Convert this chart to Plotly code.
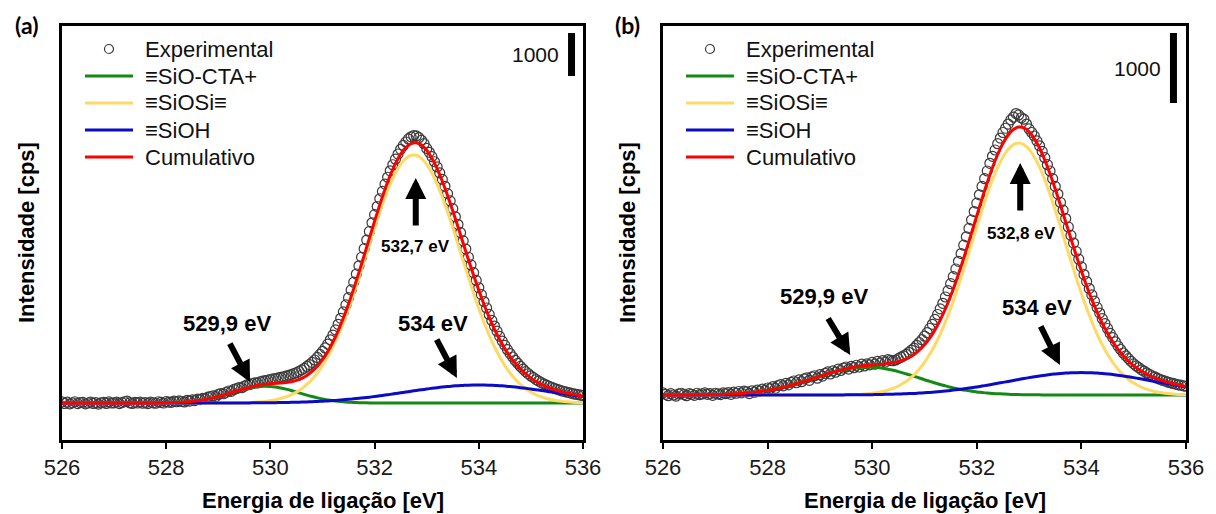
import plotly.graph_objects as go

FONT = "Liberation Sans, Arial, sans-serif"

# ---------------- energy grids (eV) ----------------
ENERGY_FIT = [
    526.0, 526.1, 526.2, 526.3, 526.4, 526.5, 526.6, 526.7, 526.8, 526.9,
    527.0, 527.1, 527.2, 527.3, 527.4, 527.5, 527.6, 527.7, 527.8, 527.9,
    528.0, 528.1, 528.2, 528.3, 528.4, 528.5, 528.6, 528.7, 528.8, 528.9,
    529.0, 529.1, 529.2, 529.3, 529.4, 529.5, 529.6, 529.7, 529.8, 529.9,
    530.0, 530.1, 530.2, 530.3, 530.4, 530.5, 530.6, 530.7, 530.8, 530.9,
    531.0, 531.1, 531.2, 531.3, 531.4, 531.5, 531.6, 531.7, 531.8, 531.9,
    532.0, 532.1, 532.2, 532.3, 532.4, 532.5, 532.6, 532.7, 532.8, 532.9,
    533.0, 533.1, 533.2, 533.3, 533.4, 533.5, 533.6, 533.7, 533.8, 533.9,
    534.0, 534.1, 534.2, 534.3, 534.4, 534.5, 534.6, 534.7, 534.8, 534.9,
    535.0, 535.1, 535.2, 535.3, 535.4, 535.5, 535.6, 535.7, 535.8, 535.9,
    536.0,
]

ENERGY_EXP = [
    526.0, 526.05, 526.1, 526.15, 526.2, 526.25, 526.3, 526.35, 526.4, 526.45,
    526.5, 526.55, 526.6, 526.65, 526.7, 526.75, 526.8, 526.85, 526.9, 526.95,
    527.0, 527.05, 527.1, 527.15, 527.2, 527.25, 527.3, 527.35, 527.4, 527.45,
    527.5, 527.55, 527.6, 527.65, 527.7, 527.75, 527.8, 527.85, 527.9, 527.95,
    528.0, 528.05, 528.1, 528.15, 528.2, 528.25, 528.3, 528.35, 528.4, 528.45,
    528.5, 528.55, 528.6, 528.65, 528.7, 528.75, 528.8, 528.85, 528.9, 528.95,
    529.0, 529.05, 529.1, 529.15, 529.2, 529.25, 529.3, 529.35, 529.4, 529.45,
    529.5, 529.55, 529.6, 529.65, 529.7, 529.75, 529.8, 529.85, 529.9, 529.95,
    530.0, 530.05, 530.1, 530.15, 530.2, 530.25, 530.3, 530.35, 530.4, 530.45,
    530.5, 530.55, 530.6, 530.65, 530.7, 530.75, 530.8, 530.85, 530.9, 530.95,
    531.0, 531.05, 531.1, 531.15, 531.2, 531.25, 531.3, 531.35, 531.4, 531.45,
    531.5, 531.55, 531.6, 531.65, 531.7, 531.75, 531.8, 531.85, 531.9, 531.95,
    532.0, 532.05, 532.1, 532.15, 532.2, 532.25, 532.3, 532.35, 532.4, 532.45,
    532.5, 532.55, 532.6, 532.65, 532.7, 532.75, 532.8, 532.85, 532.9, 532.95,
    533.0, 533.05, 533.1, 533.15, 533.2, 533.25, 533.3, 533.35, 533.4, 533.45,
    533.5, 533.55, 533.6, 533.65, 533.7, 533.75, 533.8, 533.85, 533.9, 533.95,
    534.0, 534.05, 534.1, 534.15, 534.2, 534.25, 534.3, 534.35, 534.4, 534.45,
    534.5, 534.55, 534.6, 534.65, 534.7, 534.75, 534.8, 534.85, 534.9, 534.95,
    535.0, 535.05, 535.1, 535.15, 535.2, 535.25, 535.3, 535.35, 535.4, 535.45,
    535.5, 535.55, 535.6, 535.65, 535.7, 535.75, 535.8, 535.85, 535.9, 535.95,
    536.0,
]

# ---------------- panel (a) intensities (cps above background) ----------------
A_EXPERIMENTAL = [
    25, -10, 20, -20, 5, 30, -15, 10, 15, -20, 0, 20, -10, 10, -25, 5, 15, -10, 25, 0,
    5, 20, -15, 10, 30, 45, 5, -10, 15, 0, 20, -5, 10, -15, 20, 5, -5, 30, 15, 0,
    35, 20, 15, 45, 30, 50, 35, 25, 60, 45, 75, 55, 90, 80, 110, 100, 135, 150, 165, 150,
    200, 220, 215, 250, 280, 270, 315, 335, 360, 355, 395, 420, 430, 450, 470, 465, 495, 510, 520, 535,
    545, 560, 565, 585, 595, 610, 625, 645, 660, 685, 705, 735, 770, 805, 850, 895, 945, 1000, 1060, 1130,
    1200, 1280, 1370, 1470, 1580, 1700, 1830, 1970, 2120, 2280, 2450, 2630, 2810, 3000, 3190, 3390, 3590, 3790, 3990, 4190,
    4380, 4570, 4750, 4920, 5090, 5250, 5400, 5540, 5670, 5790, 5900, 5990, 6070, 6140, 6190, 6220, 6210, 6170, 6110, 6030,
    5920, 5830, 5730, 5610, 5490, 5350, 5200, 5040, 4870, 4700, 4520, 4330, 4150, 3960, 3770, 3580, 3390, 3210, 3030, 2850,
    2680, 2520, 2360, 2210, 2060, 1920, 1790, 1670, 1550, 1440, 1340, 1240, 1150, 1070, 990, 920, 850, 790, 730, 680,
    630, 590, 545, 510, 475, 445, 415, 390, 365, 340, 320, 300, 280, 265, 250, 235, 220, 205, 195, 185,
    175,
]
A_SIO_CTA = [
    0, 0, 0, 0, 0, 0, 0, 0, 0, 0,
    0, 0, 0, 0, 0, 0, 0, 1, 2, 3,
    5, 8, 13, 19, 27, 38, 53, 71, 93, 119,
    150, 183, 218, 255, 290, 323, 351, 372, 386, 390,
    386, 372, 351, 323, 290, 255, 218, 183, 150, 119,
    93, 71, 53, 38, 27, 19, 13, 8, 5, 3,
    2, 1, 0, 0, 0, 0, 0, 0, 0, 0,
    0, 0, 0, 0, 0, 0, 0, 0, 0, 0,
    0, 0, 0, 0, 0, 0, 0, 0, 0, 0,
    0, 0, 0, 0, 0, 0, 0, 0, 0, 0,
    0,
]
A_SIOSI = [
    0, 0, 0, 0, 0, 0, 0, 0, 0, 0,
    0, 0, 0, 0, 0, 0, 0, 0, 0, 0,
    0, 0, 0, 0, 0, 0, 0, 0, 0, 1,
    1, 2, 2, 4, 6, 8, 13, 18, 27, 38,
    54, 76, 104, 142, 191, 253, 333, 431, 552, 698,
    871, 1074, 1309, 1576, 1873, 2200, 2550, 2921, 3306, 3694,
    4078, 4445, 4787, 5092, 5350, 5552, 5690, 5761, 5761, 5690,
    5552, 5350, 5092, 4787, 4445, 4078, 3694, 3306, 2921, 2550,
    2200, 1873, 1576, 1309, 1074, 871, 698, 552, 431, 333,
    253, 191, 142, 104, 76, 54, 38, 27, 18, 13,
    8,
]
A_SIOH = [
    0, 0, 0, 0, 0, 0, 0, 0, 0, 0,
    0, 0, 0, 0, 0, 0, 0, 0, 0, 0,
    0, 0, 0, 0, 0, 0, 0, 0, 0, 0,
    1, 1, 1, 2, 2, 2, 3, 4, 5, 6,
    7, 9, 11, 13, 15, 18, 22, 26, 31, 36,
    42, 49, 57, 65, 75, 85, 97, 109, 122, 136,
    151, 167, 184, 201, 219, 237, 255, 273, 291, 308,
    325, 342, 357, 371, 383, 394, 403, 410, 416, 419,
    420, 419, 416, 410, 403, 394, 383, 371, 357, 342,
    325, 308, 291, 273, 255, 237, 219, 201, 184, 167,
    151,
]
A_CUMULATIVO = [
    0, 0, 0, 0, 0, 0, 0, 0, 0, 0,
    0, 0, 0, 0, 0, 0, 0, 1, 2, 3,
    5, 8, 13, 19, 27, 38, 53, 71, 93, 120,
    152, 186, 221, 261, 298, 333, 367, 394, 418, 434,
    447, 457, 466, 478, 496, 526, 573, 640, 733, 853,
    1006, 1194, 1419, 1679, 1975, 2304, 2660, 3038, 3433, 3833,
    4231, 4613, 4971, 5293, 5569, 5789, 5945, 6034, 6052, 5998,
    5877, 5692, 5449, 5158, 4828, 4472, 4097, 3716, 3337, 2969,
    2620, 2292, 1992, 1719, 1477, 1265, 1081, 923, 788, 675,
    578, 499, 433, 377, 331, 291, 257, 228, 202, 180,
    159,
]

# ---------------- panel (b) intensities ----------------
B_EXPERIMENTAL = [
    30, 10, -10, 20, 0, -15, 15, 25, 5, -10, 20, 10, -5, 25, 5, 15, 30, 10, 20, -5,
    25, 15, 5, 30, 20, 35, 10, 40, 25, 50, 30, 55, 45, 20, 60, 40, 70, 55, 85, 65,
    100, 90, 120, 95, 135, 150, 130, 165, 145, 180, 200, 175, 215, 190, 230, 245, 210, 260, 275, 240,
    290, 270, 310, 330, 300, 345, 325, 370, 350, 385, 400, 370, 410, 390, 425, 400, 440, 415, 445, 430,
    465, 440, 480, 455, 490, 470, 505, 495, 490, 500, 520, 540, 560, 580, 610, 640, 670, 710, 750, 790,
    840, 890, 950, 1010, 1080, 1150, 1230, 1310, 1400, 1490, 1590, 1690, 1800, 1910, 2020, 2140, 2260, 2380, 2500, 2620,
    2740, 2860, 2980, 3090, 3200, 3310, 3410, 3500, 3590, 3670, 3750, 3810, 3870, 3930, 3970, 4020, 4000, 3960, 3940, 3870,
    3800, 3750, 3700, 3630, 3560, 3480, 3390, 3290, 3200, 3090, 2980, 2870, 2750, 2640, 2520, 2400, 2280, 2170, 2050, 1940,
    1830, 1720, 1620, 1520, 1430, 1340, 1250, 1170, 1090, 1020, 950, 880, 820, 760, 700, 650, 600, 560, 520, 480,
    445, 415, 390, 360, 340, 315, 295, 275, 260, 240, 225, 210, 200, 185, 175, 165, 155, 145, 140, 130,
    125,
]
B_SIO_CTA = [
    0, 0, 0, 1, 1, 1, 2, 2, 3, 4,
    6, 8, 10, 14, 18, 22, 28, 36, 44, 54,
    66, 79, 94, 111, 130, 150, 172, 195, 218, 243,
    267, 290, 313, 334, 353, 369, 382, 392, 398, 400,
    398, 392, 382, 369, 353, 334, 313, 290, 267, 243,
    218, 195, 172, 150, 130, 111, 94, 79, 66, 54,
    44, 36, 28, 22, 18, 14, 10, 8, 6, 4,
    3, 2, 2, 1, 1, 1, 0, 0, 0, 0,
    0, 0, 0, 0, 0, 0, 0, 0, 0, 0,
    0, 0, 0, 0, 0, 0, 0, 0, 0, 0,
    0,
]
B_SIOSI = [
    0, 0, 0, 0, 0, 0, 0, 0, 0, 0,
    0, 0, 0, 0, 0, 0, 0, 0, 0, 0,
    0, 0, 0, 0, 0, 0, 0, 0, 0, 0,
    0, 1, 1, 2, 2, 4, 6, 8, 12, 18,
    26, 36, 50, 70, 95, 128, 170, 222, 288, 369,
    466, 581, 715, 870, 1045, 1239, 1450, 1677, 1915, 2159,
    2403, 2642, 2868, 3074, 3254, 3401, 3510, 3577, 3600, 3577,
    3510, 3401, 3254, 3074, 2868, 2642, 2403, 2159, 1915, 1677,
    1450, 1239, 1045, 870, 715, 581, 466, 369, 288, 222,
    170, 128, 95, 70, 50, 36, 26, 18, 12, 8,
    6,
]
B_SIOH = [
    0, 0, 0, 0, 0, 0, 0, 0, 0, 0,
    0, 0, 0, 0, 0, 0, 0, 0, 0, 0,
    0, 0, 0, 0, 0, 0, 0, 0, 0, 0,
    0, 1, 1, 1, 1, 2, 2, 3, 4, 4,
    5, 7, 8, 10, 12, 14, 17, 20, 23, 28,
    32, 37, 43, 50, 57, 65, 74, 83, 93, 104,
    115, 127, 140, 153, 167, 180, 194, 208, 222, 235,
    248, 260, 272, 282, 292, 300, 307, 313, 317, 319,
    320, 319, 317, 313, 307, 300, 292, 282, 272, 260,
    248, 235, 222, 208, 194, 180, 167, 153, 140, 127,
    115,
]
B_CUMULATIVO = [
    0, 0, 0, 1, 1, 1, 2, 2, 3, 4,
    6, 8, 10, 14, 18, 22, 28, 36, 44, 54,
    66, 79, 94, 111, 130, 150, 172, 195, 218, 243,
    267, 292, 315, 337, 356, 375, 390, 403, 414, 422,
    429, 435, 440, 449, 460, 476, 500, 532, 578, 640,
    716, 813, 930, 1070, 1232, 1415, 1618, 1839, 2074, 2317,
    2562, 2805, 3036, 3249, 3439, 3595, 3714, 3793, 3828, 3816,
    3761, 3663, 3528, 3357, 3161, 2943, 2710, 2472, 2232, 1996,
    1770, 1558, 1362, 1183, 1022, 881, 758, 651, 560, 482,
    418, 363, 317, 278, 244, 216, 193, 171, 152, 135,
    121,
]

for arr in (A_EXPERIMENTAL, B_EXPERIMENTAL):
    assert len(arr) == len(ENERGY_EXP), len(arr)
for arr in (A_SIO_CTA, A_SIOSI, A_SIOH, A_CUMULATIVO, B_SIO_CTA, B_SIOSI, B_SIOH, B_CUMULATIVO):
    assert len(arr) == len(ENERGY_FIT), len(arr)

# ---------------- labels / styling ----------------
SERIES_NAMES = ["Experimental", "≡SiO-CTA+", "≡SiOSi≡", "≡SiOH", "Cumulativo"]
LINE_COLORS = {"≡SiO-CTA+": "#138a13", "≡SiOSi≡": "#ffd966", "≡SiOH": "#0a0ac8", "Cumulativo": "#ff0000"}
MARKER_COLOR = "#3a3a3a"
X_TICKS = [526, 528, 530, 532, 534, 536]
X_RANGE = [526, 536]
Y_RANGE_A = [-860, 8767]
Y_RANGE_B = [-643, 5271]
SCALE_BAR_CPS = 1000
SCALE_BAR_A = dict(x=535.78, y0=7605)
SCALE_BAR_B = dict(x=535.76, y0=4171)

PEAK_LABELS_A = [("529,9 eV", 529.17, 1860, 22), ("534 eV", 533.12, 1860, 22), ("532,7 eV", 532.79, 3651, 17)]
PEAK_ARROWS_A = [(529.61, 488, -21, -40), (533.58, 581, -21, -40), (532.79, 5233, 0, 49)]
PEAK_LABELS_B = [("529,9 eV", 529.08, 1400, 22), ("534 eV", 533.15, 1243, 22), ("532,8 eV", 532.85, 2300, 17)]
PEAK_ARROWS_B = [(529.58, 571, -23, -38), (533.59, 429, -20, -40), (532.83, 3314, 0, 49)]

W, H = 1216, 514
DOM_X_A = [62 / W, 583 / W]
DOM_X_B = [663 / W, 1186 / W]
DOM_Y = [74 / H, 488 / H]

# legend layout (pixels from the left edge of each plot box / from the top of the figure)
LEG_LINE_X0, LEG_LINE_X1, LEG_TEXT_X = 23, 71, 81
LEG_ROW_Y0, LEG_ROW_STEP = 49, 27

fig = go.Figure()


def add_panel(xa, ya, exp, comps, bar):
    fig.add_trace(go.Scatter(
        x=ENERGY_EXP, y=exp, mode="markers", name=SERIES_NAMES[0], showlegend=False,
        marker=dict(symbol="circle-open", size=10, color=MARKER_COLOR, line=dict(width=1.2)),
        xaxis=xa, yaxis=ya))
    for name, vals in zip(SERIES_NAMES[1:], comps):
        fig.add_trace(go.Scatter(
            x=ENERGY_FIT, y=vals, mode="lines", name=name, line_shape="spline", showlegend=False,
            line=dict(color=LINE_COLORS[name], width=3),
            xaxis=xa, yaxis=ya))
    fig.add_trace(go.Scatter(
        x=[bar["x"], bar["x"]], y=[bar["y0"], bar["y0"] + SCALE_BAR_CPS], mode="lines",
        line=dict(color="black", width=7), showlegend=False, xaxis=xa, yaxis=ya, hoverinfo="skip"))


add_panel("x", "y", A_EXPERIMENTAL, [A_SIO_CTA, A_SIOSI, A_SIOH, A_CUMULATIVO], SCALE_BAR_A)
add_panel("x2", "y2", B_EXPERIMENTAL, [B_SIO_CTA, B_SIOSI, B_SIOH, B_CUMULATIVO], SCALE_BAR_B)

annotations = []
shapes = []


def panel_decor(xref, yref, labels, arrows, bar, dom_x):
    for text, x, y, size in labels:
        annotations.append(dict(x=x, y=y, xref=xref, yref=yref, text=text, showarrow=False,
                                xanchor="center", yanchor="middle",
                                font=dict(family=FONT, size=size, color="black", weight="bold")))
    for x, y, ax, ay in arrows:
        annotations.append(dict(x=x, y=y, xref=xref, yref=yref, ax=ax, ay=ay, text="",
                                showarrow=True, arrowhead=2, arrowwidth=6, arrowsize=0.7,
                                arrowcolor="black", standoff=0))
    annotations.append(dict(x=bar["x"] - 0.2, y=bar["y0"] + SCALE_BAR_CPS / 2, xref=xref, yref=yref,
                            text=str(SCALE_BAR_CPS), showarrow=False, xanchor="right", yanchor="middle",
                            font=dict(family=FONT, size=21, color="#111")))
    cx = (dom_x[0] + dom_x[1]) / 2
    annotations.append(dict(x=cx, y=(H - 500) / H, xref="paper", yref="paper",
                            xanchor="center", yanchor="middle",
                            text="Energia de ligação [eV]", showarrow=False,
                            font=dict(family=FONT, size=22, color="black", weight="bold")))
    annotations.append(dict(x=dom_x[0] - 36 / W, y=(DOM_Y[0] + DOM_Y[1]) / 2, xref="paper", yref="paper",
                            xanchor="center", yanchor="middle",
                            text="Intensidade [cps]", showarrow=False, textangle=-90,
                            font=dict(family=FONT, size=22, color="black", weight="bold")))
    # legend, drawn item by item
    left_px = dom_x[0] * W
    for i, name in enumerate(SERIES_NAMES):
        yc = (H - (LEG_ROW_Y0 + i * LEG_ROW_STEP)) / H
        annotations.append(dict(x=(left_px + LEG_TEXT_X) / W, y=yc, xref="paper", yref="paper",
                                text=name, showarrow=False, xanchor="left", yanchor="middle",
                                font=dict(family=FONT, size=22, color="#111")))
        if name in LINE_COLORS:
            shapes.append(dict(type="line", xref="paper", yref="paper",
                               x0=(left_px + LEG_LINE_X0) / W, x1=(left_px + LEG_LINE_X1) / W,
                               y0=yc, y1=yc, line=dict(color=LINE_COLORS[name], width=3)))
        else:
            xc = (left_px + (LEG_LINE_X0 + LEG_LINE_X1) / 2) / W
            shapes.append(dict(type="circle", xref="paper", yref="paper",
                               x0=xc - 4.5 / W, x1=xc + 4.5 / W, y0=yc - 4.5 / H, y1=yc + 4.5 / H,
                               line=dict(color=MARKER_COLOR, width=1.2)))


panel_decor("x", "y", PEAK_LABELS_A, PEAK_ARROWS_A, SCALE_BAR_A, DOM_X_A)
panel_decor("x2", "y2", PEAK_LABELS_B, PEAK_ARROWS_B, SCALE_BAR_B, DOM_X_B)
for lab, xpx in (("(a)", 26), ("(b)", 627)):
    annotations.append(dict(x=xpx / W, y=(H - 25) / H, xref="paper", yref="paper", text=lab, showarrow=False,
                            xanchor="center", yanchor="middle",
                            font=dict(family="Lato, Open Sans, sans-serif", size=23, color="black", weight="bold")))


def xaxis_cfg(domain, anchor):
    return dict(domain=domain, anchor=anchor, range=X_RANGE, tickmode="array", tickvals=X_TICKS,
                ticks="outside", ticklen=6, tickwidth=2, tickcolor="black", showline=True,
                linecolor="black", linewidth=2.5, mirror=True, showgrid=False, zeroline=False,
                tickfont=dict(family=FONT, size=22, color="#1a1a1a"))


def yaxis_cfg(rng, anchor):
    return dict(domain=DOM_Y, anchor=anchor, range=rng, showticklabels=False, ticks="",
                showline=True, linecolor="black", linewidth=2.5, mirror=True,
                showgrid=False, zeroline=False)


fig.update_layout(
    width=W, height=H, margin=dict(l=0, r=0, t=0, b=0, autoexpand=False),
    paper_bgcolor="white", plot_bgcolor="white", showlegend=False,
    xaxis=xaxis_cfg(DOM_X_A, "y"), yaxis=yaxis_cfg(Y_RANGE_A, "x"),
    xaxis2=xaxis_cfg(DOM_X_B, "y2"), yaxis2=yaxis_cfg(Y_RANGE_B, "x2"),
    annotations=annotations, shapes=shapes,
)

fig.write_html("out.html", config={"displayModeBar": False},
               post_script="document.body.style.margin='0';document.body.style.overflow='hidden';")
